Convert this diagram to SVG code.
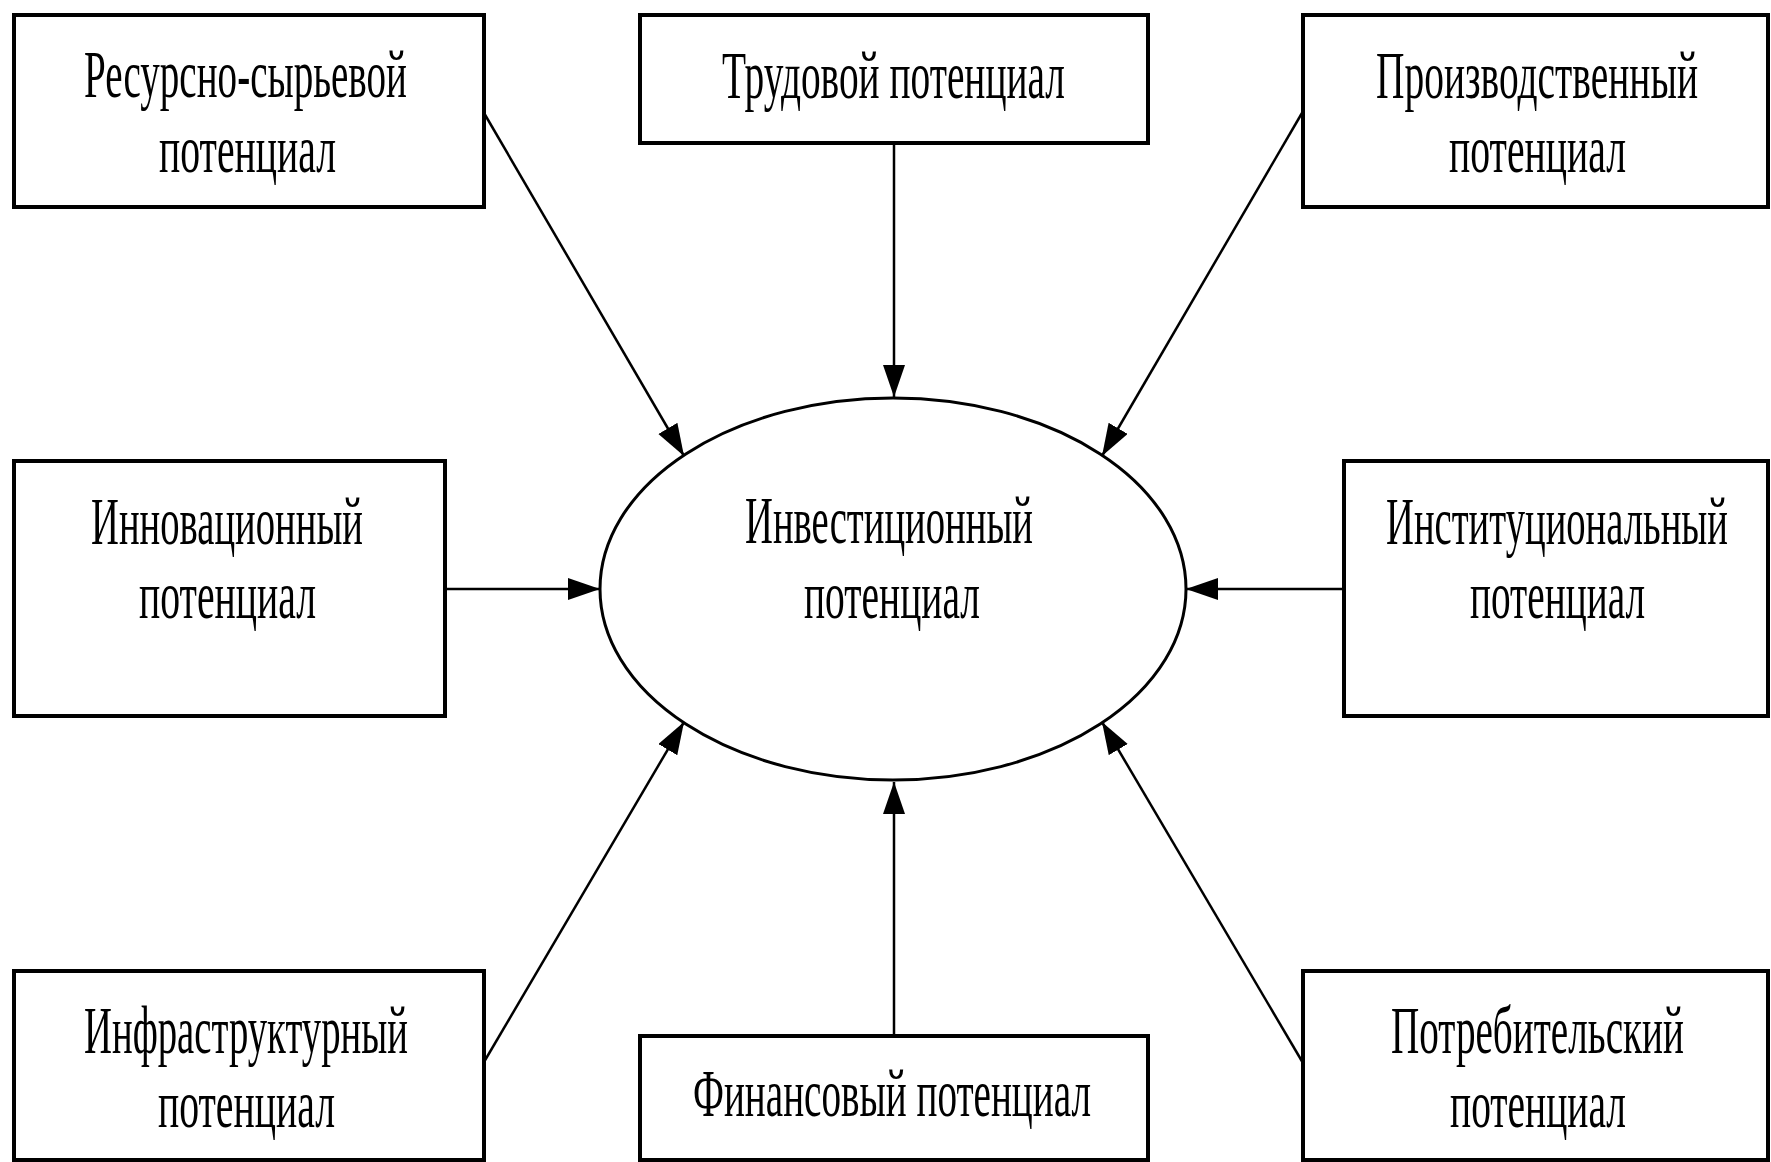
<svg xmlns="http://www.w3.org/2000/svg" width="1771" height="1162" viewBox="0 0 1771 1162">
<style>
.box{fill:#fff;stroke:#000;stroke-width:4}
.ell{fill:#fff;stroke:#000;stroke-width:3}
.lbl{font-family:"Liberation Serif","Times New Roman",serif;font-size:68px;fill:#000}
.con{stroke:#000;stroke-width:2.5;fill:none}
</style>
<defs>
<marker id="arr" markerUnits="userSpaceOnUse" markerWidth="34" markerHeight="24" refX="32" refY="11" orient="auto">
<path d="M0,0 L32,11 L0,22 z" fill="#000"/>
</marker>
</defs>
<rect width="1771" height="1162" fill="#fff"/>
<g id="connectors">
<line class="con" x1="484" y1="113" x2="684" y2="456" marker-end="url(#arr)"/>
<line class="con" x1="894" y1="143" x2="894" y2="397" marker-end="url(#arr)"/>
<line class="con" x1="1302" y1="113" x2="1102" y2="456" marker-end="url(#arr)"/>
<line class="con" x1="445" y1="589" x2="600" y2="589" marker-end="url(#arr)"/>
<line class="con" x1="1344" y1="589" x2="1186" y2="589" marker-end="url(#arr)"/>
<line class="con" x1="484" y1="1062" x2="684" y2="722" marker-end="url(#arr)"/>
<line class="con" x1="894" y1="1036" x2="894" y2="782" marker-end="url(#arr)"/>
<line class="con" x1="1303" y1="1063" x2="1102" y2="722" marker-end="url(#arr)"/>
</g>
<g id="n-resource">
<rect class="box" x="14" y="15" width="470" height="192"/>
<g transform="scale(0.6,1)">
<text class="lbl" x="140" y="97" textLength="538.3" lengthAdjust="spacingAndGlyphs">Ресурсно-сырьевой</text>
<text class="lbl" x="265" y="172" textLength="295" lengthAdjust="spacingAndGlyphs">потенциал</text>
</g>
</g>
<g id="n-labor">
<rect class="box" x="640" y="15" width="508" height="128"/>
<g transform="scale(0.6,1)">
<text class="lbl" x="1203.3" y="98" textLength="571.7" lengthAdjust="spacingAndGlyphs">Трудовой потенциал</text>
</g>
</g>
<g id="n-production">
<rect class="box" x="1303" y="15" width="465" height="192"/>
<g transform="scale(0.6,1)">
<text class="lbl" x="2293.3" y="98" textLength="536.7" lengthAdjust="spacingAndGlyphs">Производственный</text>
<text class="lbl" x="2415" y="172" textLength="295" lengthAdjust="spacingAndGlyphs">потенциал</text>
</g>
</g>
<g id="n-innovation">
<rect class="box" x="14" y="461" width="431" height="255"/>
<g transform="scale(0.6,1)">
<text class="lbl" x="151.7" y="544" textLength="453.3" lengthAdjust="spacingAndGlyphs">Инновационный</text>
<text class="lbl" x="231.7" y="618" textLength="295" lengthAdjust="spacingAndGlyphs">потенциал</text>
</g>
</g>
<g id="n-institutional">
<rect class="box" x="1344" y="461" width="424" height="255"/>
<g transform="scale(0.6,1)">
<text class="lbl" x="2310" y="544" textLength="570" lengthAdjust="spacingAndGlyphs">Институциональный</text>
<text class="lbl" x="2450" y="618" textLength="291.7" lengthAdjust="spacingAndGlyphs">потенциал</text>
</g>
</g>
<g id="n-investment">
<ellipse class="ell" cx="893" cy="589" rx="293" ry="191"/>
<g transform="scale(0.6,1)">
<text class="lbl" x="1241.7" y="543" textLength="480" lengthAdjust="spacingAndGlyphs">Инвестиционный</text>
<text class="lbl" x="1340" y="618" textLength="293.3" lengthAdjust="spacingAndGlyphs">потенциал</text>
</g>
</g>
<g id="n-infrastructure">
<rect class="box" x="14" y="971" width="470" height="189"/>
<g transform="scale(0.6,1)">
<text class="lbl" x="140" y="1053" textLength="540" lengthAdjust="spacingAndGlyphs">Инфраструктурный</text>
<text class="lbl" x="263.3" y="1127" textLength="295" lengthAdjust="spacingAndGlyphs">потенциал</text>
</g>
</g>
<g id="n-finance">
<rect class="box" x="640" y="1036" width="508" height="124"/>
<g transform="scale(0.6,1)">
<text class="lbl" x="1155" y="1116" textLength="663.3" lengthAdjust="spacingAndGlyphs">Финансовый потенциал</text>
</g>
</g>
<g id="n-consumer">
<rect class="box" x="1303" y="971" width="465" height="189"/>
<g transform="scale(0.6,1)">
<text class="lbl" x="2318.3" y="1053" textLength="488.3" lengthAdjust="spacingAndGlyphs">Потребительский</text>
<text class="lbl" x="2416.7" y="1127" textLength="293.3" lengthAdjust="spacingAndGlyphs">потенциал</text>
</g>
</g>
</svg>
